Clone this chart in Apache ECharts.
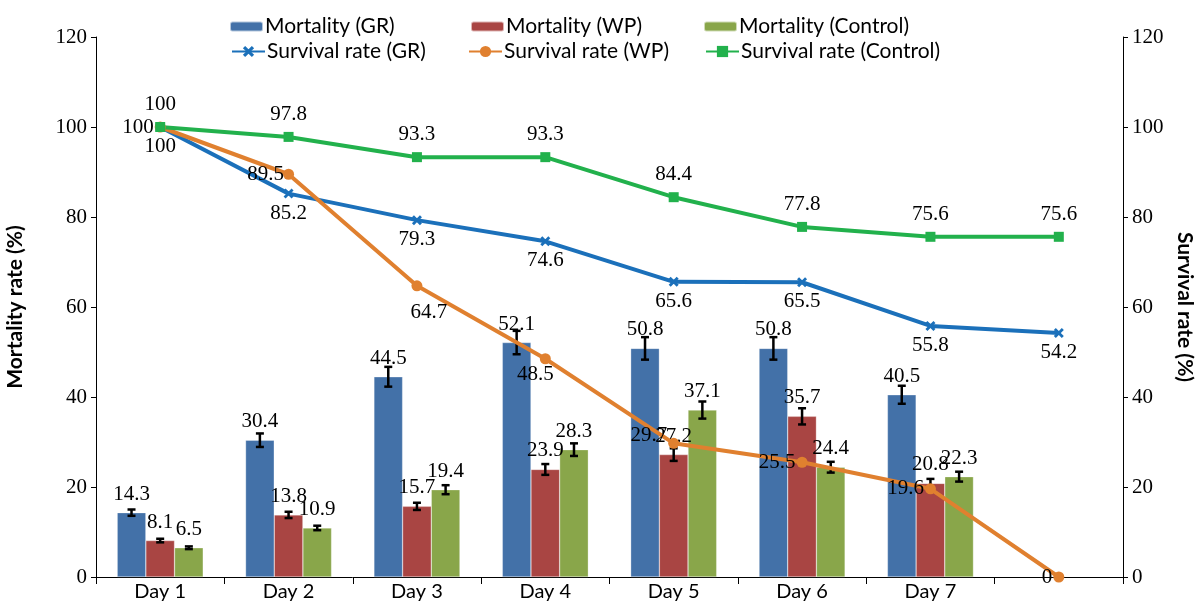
<!DOCTYPE html>
<html lang="en">
<head>
<meta charset="UTF-8">
<title>Mortality and survival rate</title>
<script src="https://cdn.jsdelivr.net/npm/echarts@6/dist/echarts.min.js"></script>
<style>
    html,body{margin:0;padding:0;background:#fff;}
    #box{width:1196px;height:604px;}
</style>
</head>
<body>
<div id="box"></div>
<script>
    // x axis categories, the last one has no label
    var days = ['Day 1','Day 2','Day 3','Day 4','Day 5','Day 6','Day 7',''];
    // mortality rate (%) - bars
    var mortGR   = [14.3, 30.4, 44.5, 52.1, 50.8, 50.8, 40.5, null];
    var mortWP   = [8.1, 13.8, 15.7, 23.9, 27.2, 35.7, 20.8, null];
    var mortCtrl = [6.5, 10.9, 19.4, 28.3, 37.1, 24.4, 22.3, null];
    // error bars (+/-)
    var errGR   = [0.7, 1.5, 2.2, 2.6, 2.5, 2.5, 2.0, null];
    var errWP   = [0.4, 0.7, 0.8, 1.2, 1.4, 1.8, 1.0, null];
    var errCtrl = [0.3, 0.5, 1.0, 1.4, 1.9, 1.2, 1.1, null];
    // survival rate (%) - lines
    var survGR   = [100, 85.2, 79.3, 74.6, 65.6, 65.5, 55.8, 54.2];
    var survWP   = [100, 89.5, 64.7, 48.5, 29.7, 25.5, 19.6, 0];
    var survCtrl = [100, 97.8, 93.3, 93.3, 84.4, 77.8, 75.6, 75.6];
    // tick values of both y axes
    var yTicks = [0, 20, 40, 60, 80, 100, 120];

    var serif = 'Liberation Serif';
    var sans = 'Lato';
    var barColors = ['#4371A8', '#A94543', '#89A64A'];
    var lineColors = ['#1B70BA', '#E0802F', '#22B14C'];
    var CAT_GAP = 0.33;

    // where the WP labels sit (style only)
    var wpLabelPos = ['left','left','bottom','bottom','left','left','left','left'];
    var wpLabelOff = [[2,0],[4,0],[12,8],[-10,-3],[2,-8],[2,0],[2,0],[2,0]];

    var myChart = echarts.init(document.getElementById('box'));

    function barSeries(name, vals, color) {
        return {
            name: name, type: 'bar', data: vals,
            barGap: 0, barCategoryGap: (CAT_GAP*100)+'%',
            itemStyle: {color: color, borderColor: 'rgba(255,255,255,0.6)', borderWidth: 0.5},
            label: {show: true, position: 'top', distance: 8, color: '#000',
                    fontFamily: serif, fontSize: 21},
            z: 2
        };
    }

    function errSeries(vals, errs, idx) {
        var data = [];
        for (var i = 0; i < vals.length; i++) {
            if (vals[i] == null) continue;
            data.push([i, vals[i] - errs[i], vals[i] + errs[i]]);
        }
        return {
            type: 'custom', silent: true, z: 3,
            encode: {x: 0, y: [1, 2]},
            data: data,
            renderItem: function (params, api) {
                var lo = api.coord([api.value(0), api.value(1)]);
                var hi = api.coord([api.value(0), api.value(2)]);
                var band = api.size([1, 0])[0];
                var bw = band * (1 - CAT_GAP) / 3;
                var x = lo[0] + (idx - 1) * bw;
                var cap = 4;
                var st = {stroke: '#000', lineWidth: 2.5};
                return {type: 'group', children: [
                    {type: 'line', shape: {x1: x, y1: lo[1], x2: x, y2: hi[1]}, style: st},
                    {type: 'line', shape: {x1: x - cap, y1: lo[1], x2: x + cap, y2: lo[1]}, style: st},
                    {type: 'line', shape: {x1: x - cap, y1: hi[1], x2: x + cap, y2: hi[1]}, style: st}
                ]};
            }
        };
    }

    function lineSeries(name, vals, color, symbol, size, labelPos, dist) {
        return {
            name: name, type: 'line', yAxisIndex: 1, data: vals,
            symbol: symbol, symbolSize: size,
            lineStyle: {color: color, width: 4},
            itemStyle: {color: color},
            label: {show: true, position: labelPos, distance: dist, color: '#000',
                    fontFamily: serif, fontSize: 21},
            z: 4
        };
    }

    var wpData = survWP.map(function (v, i) {
        return {value: v, label: {position: wpLabelPos[i], offset: wpLabelOff[i]}};
    });

    var xStar = 'path://M2,0 L5,3 L8,0 L10,2 L7,5 L10,8 L8,10 L5,7 L2,10 L0,8 L3,5 L0,2Z';

    function legendAt(name, left, top, h) {
        return {
            data: [name], left: left, top: top, itemWidth: 33, itemHeight: h,
            selectedMode: false,
            textStyle: {fontFamily: sans, fontSize: 21, color: '#000', padding: [0, 0, 0, -3]}
        };
    }

    var yAxisBase = {
        type: 'value', min: yTicks[0], max: yTicks[yTicks.length - 1],
        interval: yTicks[1] - yTicks[0],
        axisLine: {show: true, lineStyle: {color: '#000', width: 1}},
        axisTick: {show: true, length: 5, lineStyle: {color: '#000'}},
        splitLine: {show: false},
        axisLabel: {fontFamily: serif, fontSize: 21, color: '#000', margin: 9},
        nameLocation: 'middle',
        nameTextStyle: {fontFamily: sans, fontSize: 21, fontWeight: 'bold', color: '#000'}
    };

    var option = {
        animation: false,
        backgroundColor: '#fff',
        color: barColors.concat(lineColors),
        grid: {left: 96, right: 73, top: 37, bottom: 27, outerBoundsMode: 'none'},
        legend: [
            legendAt('Mortality (GR)', 224, 11, 10),
            legendAt('Mortality (WP)', 465, 11, 10),
            legendAt('Mortality (Control)', 698, 11, 10),
            legendAt('Survival rate (GR)', 226, 36, 14),
            legendAt('Survival rate (WP)', 463, 36, 14),
            legendAt('Survival rate (Control)', 700, 36, 14)
        ],
        xAxis: {
            type: 'category', data: days,
            axisLine: {lineStyle: {color: '#000', width: 1}},
            axisTick: {show: true, length: 7, lineStyle: {color: '#000'}},
            axisLabel: {fontFamily: sans, fontSize: 20, color: '#000', margin: 5}
        },
        yAxis: [
            Object.assign({}, yAxisBase, {name: 'Mortality rate (%)', nameGap: 70}),
            Object.assign({}, yAxisBase, {name: 'Survival rate (%)', nameGap: 50,
                position: 'right', nameRotate: -90})
        ],
        series: [
            barSeries('Mortality (GR)', mortGR, barColors[0]),
            barSeries('Mortality (WP)', mortWP, barColors[1]),
            barSeries('Mortality (Control)', mortCtrl, barColors[2]),
            errSeries(mortGR, errGR, 0),
            errSeries(mortWP, errWP, 1),
            errSeries(mortCtrl, errCtrl, 2),
            lineSeries('Survival rate (GR)', survGR, lineColors[0], xStar, 10, 'bottom', 4),
            lineSeries('Survival rate (WP)', wpData, lineColors[1], 'circle', 11, 'left', 3),
            lineSeries('Survival rate (Control)', survCtrl, lineColors[2], 'rect', 10, 'top', 7)
        ]
    };
    myChart.setOption(option);
</script>
</body>
</html>
